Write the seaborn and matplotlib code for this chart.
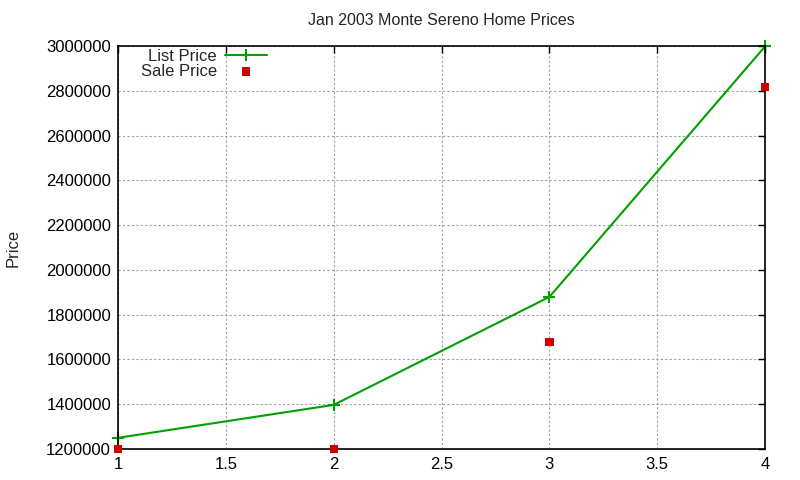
import pandas as pd
import matplotlib
matplotlib.use('Agg')
import matplotlib.pyplot as plt
import seaborn as sns

# values
houses = [1, 2, 3, 4]
list_price = [1250000, 1397000, 1879000, 2998000]
sale_price = [1200000, 1200000, 1678000, 2818000]

df = pd.DataFrame({'House': houses, 'List Price': list_price, 'Sale Price': sale_price})

sns.set_style('white')
plt.rcParams['font.family'] = ['Liberation Sans', 'DejaVu Sans']

fig = plt.figure(figsize=(8, 4.8), dpi=100)
ax = fig.add_axes([0.1475, 0.0646, 0.8088, 0.8396])

green = '#00a000'
sns.lineplot(x='House', y='List Price', data=df, ax=ax, color=green, linewidth=1.5,
             marker='+', markersize=9, markeredgewidth=1.5, markeredgecolor=green,
             label='List Price', clip_on=False)
sns.scatterplot(x='House', y='Sale Price', data=df, ax=ax, color='#d00000', marker='s',
                s=36, edgecolor='none', label='Sale Price', clip_on=False, zorder=5)

ax.set_xlim(1, 4)
ax.set_ylim(1200000, 3000000)
ax.set_xticks([1, 1.5, 2, 2.5, 3, 3.5, 4])
ax.set_xticklabels(['1', '1.5', '2', '2.5', '3', '3.5', '4'])
ax.set_yticks(range(1200000, 3000001, 200000))
ax.set_yticklabels([str(v) for v in range(1200000, 3000001, 200000)])

ax.grid(True, color='#a0a0a0', linestyle=(0, (2, 2)), linewidth=0.8)
ax.tick_params(direction='in', length=5, width=1, top=True, right=True, labelsize=12,
               colors='black')
ax.tick_params(axis='y', pad=5)
ax.tick_params(axis='x', pad=6)
for s in ax.spines.values():
    s.set_color('black')
    s.set_linewidth(1.2)

ax.set_xlabel('')
ax.set_ylabel('Price', fontsize=12)
ax.yaxis.set_label_coords(-0.151, 0.5)
ax.set_title('Jan 2003 Monte Sereno Home Prices', fontsize=11.5, pad=15)

leg = ax.legend(loc='upper right', bbox_to_anchor=(0.2303, 0.9926), frameon=False, fontsize=12,
                markerfirst=False, handlelength=2.5, handletextpad=0.5, labelspacing=0.0,
                borderpad=0, borderaxespad=0)

plt.savefig('out.png', dpi=100)
